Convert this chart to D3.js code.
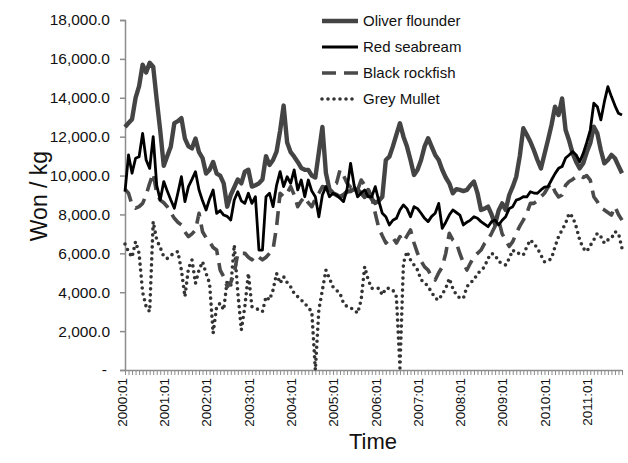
<!DOCTYPE html>
<html><head><meta charset="utf-8">
<script src="https://cdn.jsdelivr.net/npm/d3@7"></script>
<style>body{margin:0;background:#fff;} svg{display:block;font-family:"Liberation Sans",Arial,sans-serif;}</style>
</head><body><svg id="c" width="628" height="463"></svg>
<script>
const years = [2000,2001,2002,2003,2004,2005,2006,2007,2008,2009,2010,2011];
const monthNames = ["01","02","03","04","05","06","07","08","09","10","11","12"];
const lastMonthCount = 10; // 2011:01 .. 2011:10
const yTicks = [0,2000,4000,6000,8000,10000,12000,14000,16000,18000];
const seriesNames = ["Oliver flounder","Red seabream","Black rockfish","Grey Mullet"];

const oliverFlounder = [12500,12700,12900,14000,14600,15700,15300,15800,15600,13900,12300,10500,
11000,11500,12700,12800,12950,11900,11500,11400,11900,11200,10900,10100,
10300,10700,10100,10000,9600,8400,9000,9400,9800,9600,10200,10300,
9430,9500,9600,9800,11000,10540,10800,11230,12300,13600,11700,11200,
10970,10700,10390,10300,10290,10000,9900,11200,12500,10130,9300,9100,
9000,8900,9000,9170,9200,9300,9260,9100,8900,9260,8800,8590,
8700,8910,10800,10970,11500,12100,12690,12000,11490,10800,10030,10300,
10800,11500,11920,11490,11060,10800,10300,9900,9600,9090,9300,9260,
9200,9260,9500,9690,9100,8230,8300,8400,8000,7500,8200,8570,
8230,9000,9430,9940,11000,12430,12100,11740,11300,10800,10370,11100,
11830,12600,13540,13110,13970,12340,11800,11140,10700,10370,10630,11200,
11660,12510,12170,11300,10630,10800,11060,10890,10500,10120];

const redSeabream = [9170,11060,10120,10890,10970,12170,10800,10370,12000,9500,8740,9690,
9200,8740,8320,9100,9940,8660,9430,9800,10200,9260,8700,8230,
8800,9260,8060,8200,7970,7900,7710,8740,9170,8700,8570,9090,
8570,8910,6170,6170,8910,9090,8400,9500,10200,9430,9940,9600,
10290,9260,9770,8910,9770,9200,8910,7880,9000,9430,8910,9090,
9000,8830,8660,9300,10630,9500,8910,9100,9260,8910,8910,9430,
8700,8060,7880,7460,7700,7800,8230,8490,8300,7880,8400,8300,
8060,7800,7630,7900,8060,8570,7290,7600,7970,8230,8100,7970,
7460,7600,7710,7880,7800,7630,7500,7370,7630,7710,7460,7700,
7880,8300,8400,8740,8800,8910,8900,9170,9100,9090,9260,9400,
9430,9770,10100,10370,10460,10900,11060,11230,11060,10710,11140,11700,
12340,13720,13540,12860,13800,14570,14060,13600,13200,13110];

const blackRockfish = [9300,9090,8490,8320,8400,8570,9000,9600,10120,9090,8740,8600,
8400,8100,7800,7600,7460,7100,6860,7000,7200,8060,7110,6800,
6600,6300,6170,5140,4800,4280,4500,4970,6000,6000,6000,5800,
5660,5910,5800,5660,5800,6000,6200,7370,9090,8910,9100,9430,
9000,8400,8700,8910,8600,8400,8800,9090,9430,9400,9430,9500,
9600,10290,10000,9600,9400,9300,9260,9770,9500,9260,8900,8060,
7300,6900,6530,6700,6800,6530,6860,6600,6900,7200,6530,6000,
5600,5300,5140,4800,4630,5000,5300,6000,7030,6690,6530,6000,
5500,5140,5500,5830,6000,6170,6500,6690,7030,7400,7710,7000,
6690,6350,6600,7030,7400,7710,8060,8570,8570,8700,8910,9090,
9400,9600,9170,8900,9000,9500,9690,9800,9940,10000,9900,10000,
9770,8910,8660,8330,8230,8100,7970,8400,8000,7710];

const greyMullet = [6480,6090,5800,6600,6000,4000,3260,3000,7630,6690,6300,5830,
5740,5900,6000,6090,5140,3770,5230,5660,4460,5140,5570,4970,
4460,1890,3260,3430,3090,4630,4280,6430,4000,2060,3260,4970,
3260,3170,3100,3000,3770,3600,4110,4970,4460,4800,4500,4280,
3940,3770,3600,3430,3200,3000,0,3100,4110,5140,4710,4280,
4100,3940,3430,3260,3200,3090,2920,3600,5310,4630,4200,4200,
4200,3860,4200,4200,4110,3770,100,5500,6090,5660,5400,5140,
4630,4500,4280,4000,3690,3600,3900,4200,4710,4200,3860,3700,
3690,4280,4500,4630,4970,5100,5310,5740,6000,5910,5570,5500,
5400,5740,6170,6000,6000,5910,6340,6690,6500,6260,5910,5570,
5600,5740,6340,6860,7200,7540,8060,7880,7370,6690,6260,6090,
6400,6690,7030,6860,6520,6690,6770,7110,7030,6260];

const categories = [];
years.forEach((yr, k) => {
  const n = (k === years.length - 1) ? lastMonthCount : 12;
  for (let m = 0; m < n; m++) categories.push(yr + ":" + monthNames[m]);
});

const svg = d3.select("#c");
const plotL = 125, plotR = 622, plotT = 20, plotB = 370;
const x = d3.scalePoint().domain(categories).range([plotL, plotR]).padding(0);
const y = d3.scaleLinear().domain([0, 18000]).range([plotB, plotT]);
const axisColor = "#8c8c8c";

// Y axis
const ya = svg.append("g").attr("transform", `translate(${plotL},0)`)
  .call(d3.axisLeft(y).tickValues(yTicks).tickSize(5).tickPadding(10)
    .tickFormat(d => d === 0 ? "-" : d3.format(",.1f")(d)));
ya.select(".domain").attr("stroke", axisColor).attr("stroke-width", 1.5);
ya.selectAll(".tick line").attr("stroke", axisColor).attr("stroke-width", 1.5);
ya.selectAll(".tick text").attr("font-size", 15.5).attr("fill", "#111")
  .attr("font-family", "'Liberation Sans',Arial,sans-serif")
  .attr("dx", d => d === 0 ? -3 : 0);

// X axis
const xa = svg.append("g").attr("transform", `translate(0,${plotB})`)
  .call(d3.axisBottom(x).tickValues(categories).tickSize(5).tickSizeOuter(0)
    .tickFormat(d => d.endsWith(":01") ? d : ""));
xa.select(".domain").attr("stroke", axisColor).attr("stroke-width", 1.5);
xa.selectAll(".tick line").attr("stroke", axisColor).attr("stroke-width", 1);
xa.selectAll(".tick text")
  .attr("font-size", 13.5).attr("fill", "#111")
  .attr("font-family", "'Liberation Sans',Arial,sans-serif")
  .attr("text-anchor", "end")
  .attr("transform", "rotate(-90)")
  .attr("x", -8).attr("y", -3.5).attr("dy", "0.35em");

// Axis titles
svg.append("text").attr("x", 373).attr("y", 449).attr("text-anchor", "middle")
  .attr("font-size", 22).attr("fill", "#111").text("Time");
svg.append("text").attr("transform", "translate(47,196) rotate(-90)").attr("text-anchor", "middle")
  .attr("font-size", 23).attr("fill", "#111").text("Won / kg");

const styles = [
  {data: oliverFlounder, color: "#444", width: 4.4, dash: null, cap: "butt"},
  {data: redSeabream, color: "#000", width: 2.8, dash: null, cap: "butt"},
  {data: blackRockfish, color: "#4a4a4a", width: 3.6, dash: "14,8", cap: "butt"},
  {data: greyMullet, color: "#333", width: 3.6, dash: "0,6", cap: "round"}
];

const line = d3.line().x((d, i) => x(categories[i])).y(d => y(d));
[3, 2, 0, 1].forEach(k => {
  const s = styles[k];
  svg.append("path").datum(s.data)
    .attr("d", line).attr("fill", "none")
    .attr("stroke", s.color).attr("stroke-width", s.width)
    .attr("stroke-linejoin", "round").attr("stroke-linecap", s.cap)
    .attr("stroke-dasharray", s.dash);
});

// Legend
const legY = [21, 47, 73, 99];
seriesNames.forEach((name, k) => {
  const s = styles[k];
  const g = svg.append("g");
  g.append("line").attr("x1", 322).attr("x2", 358).attr("y1", legY[k]).attr("y2", legY[k])
    .attr("stroke", s.color).attr("stroke-width", s.width)
    .attr("stroke-linecap", s.cap).attr("stroke-dasharray", s.dash);
  g.append("text").attr("x", 363).attr("y", legY[k]).attr("dy", "0.35em")
    .attr("font-size", 15).attr("fill", "#111").text(name);
});
</script></body></html>
